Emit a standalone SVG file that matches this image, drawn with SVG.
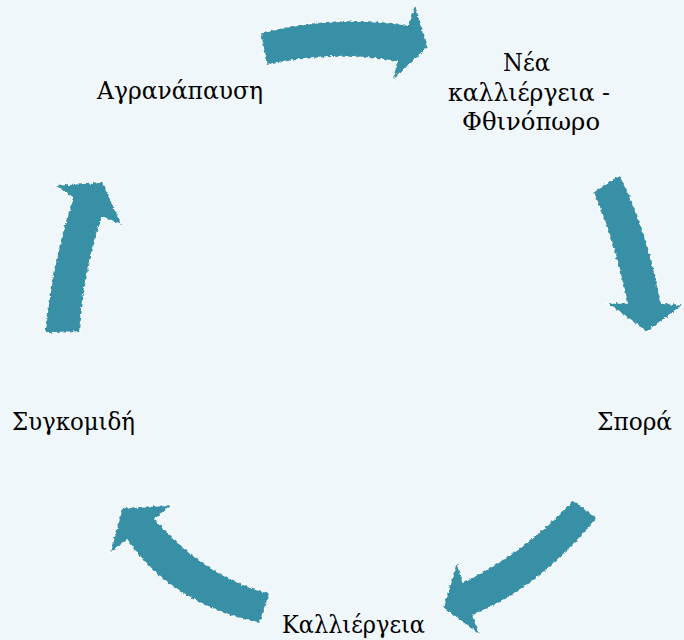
<svg xmlns="http://www.w3.org/2000/svg" width="684" height="640" viewBox="0 0 684 640">
  <defs>
    <style>
      .lbl { font-family: "DejaVu Serif", "Liberation Serif", serif; font-size: 23.5px; fill: #000; }
      .arrow { fill: #3790a7; stroke: #ffffff; stroke-width: 1.6; stroke-dasharray: 4 3; stroke-linejoin: miter; }
    </style>
    <filter id="rough" x="-10%" y="-10%" width="120%" height="120%">
      <feTurbulence type="fractalNoise" baseFrequency="0.6" numOctaves="2" seed="3" result="n"/>
      <feDisplacementMap in="SourceGraphic" in2="n" scale="2.5" xChannelSelector="R" yChannelSelector="G"/>
    </filter>
  </defs>
  <rect x="0" y="0" width="684" height="640" fill="#f0f7fa"/>

  <g id="connectors" filter="url(#rough)">
    <path class="arrow" d="M 260 33 Q 333 14 408 25 L 415 5 L 428 47 L 393 80 L 397 62 Q 335 50 267 65 Z"/>
    <path class="arrow" d="M 593 192 L 620 175 Q 648 232 661 303 L 683 305 L 647 332 L 607 303 L 627 303 Q 614 240 593 192 Z"/>
    <path class="arrow" d="M 573 500 L 597 518 Q 540 588 473 615 L 480 635 L 443 608 L 457 562 L 463 582 Q 525 552 573 500 Z"/>
    <path class="arrow" d="M 270 593 L 260 623 Q 172 605 127 540 L 110 553 L 122 508 L 172 505 L 155 519 Q 207 578 270 593 Z"/>
    <path class="arrow" d="M 45 333 L 80 332 Q 83 275 102 217 L 122 225 L 103 182 L 55 185 L 73 198 Q 51 265 45 333 Z"/>
  </g>

  <g id="node-nea-kalliergeia">
    <text class="lbl" x="503" y="71" textLength="47" lengthAdjust="spacingAndGlyphs">Νέα</text>
    <text class="lbl" x="448" y="101" textLength="162" lengthAdjust="spacingAndGlyphs">καλλιέργεια -</text>
    <text class="lbl" x="462" y="130" textLength="138" lengthAdjust="spacingAndGlyphs">Φθινόπωρο</text>
  </g>
  <g id="node-spora">
    <text class="lbl" x="597" y="430" textLength="75" lengthAdjust="spacingAndGlyphs">Σπορά</text>
  </g>
  <g id="node-kalliergeia">
    <text class="lbl" x="282" y="633" textLength="143" lengthAdjust="spacingAndGlyphs">Καλλιέργεια</text>
  </g>
  <g id="node-sygkomidi">
    <text class="lbl" x="12" y="430" textLength="123" lengthAdjust="spacingAndGlyphs">Συγκομιδή</text>
  </g>
  <g id="node-agranapausi">
    <text class="lbl" x="97" y="99" textLength="166" lengthAdjust="spacingAndGlyphs">Αγρανάπαυση</text>
  </g>
</svg>
